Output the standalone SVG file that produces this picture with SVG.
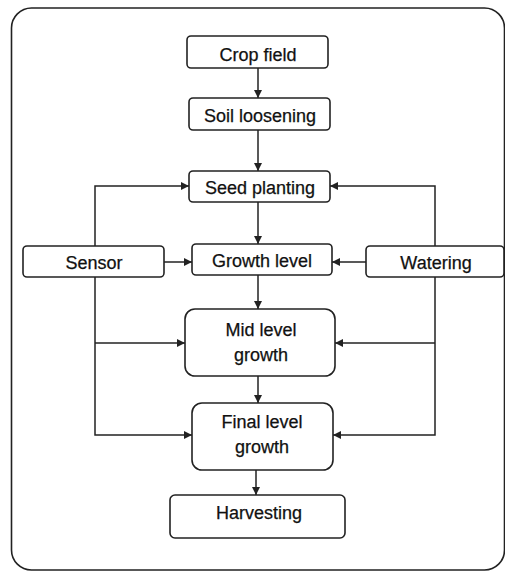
<svg xmlns="http://www.w3.org/2000/svg" width="505" height="572" viewBox="0 0 505 572">
<style>
.box{fill:#fff;stroke:#222;stroke-width:1.6}
.t{font-family:"Liberation Sans",Arial,sans-serif;font-size:18px;fill:#111;stroke:#111;stroke-width:0.25;text-anchor:middle}
.c{fill:none;stroke:#222;stroke-width:1.5}
</style>
<defs>
<marker id="a" viewBox="0 0 10 10" refX="10" refY="5" markerWidth="9" markerHeight="8" markerUnits="userSpaceOnUse" orient="auto">
<path d="M0,0L10,5L0,10z" fill="#222"/>
</marker>
</defs>
<rect x="0" y="0" width="505" height="572" fill="#fff"/>
<rect x="11.5" y="8" width="493" height="562" rx="20" fill="none" stroke="#222" stroke-width="1.6"/>
<g id="connectors">
<line class="c" x1="258" y1="68" x2="258" y2="98" marker-end="url(#a)"/>
<line class="c" x1="258" y1="130" x2="258" y2="171" marker-end="url(#a)"/>
<line class="c" x1="258" y1="202" x2="258" y2="244" marker-end="url(#a)"/>
<line class="c" x1="258" y1="275" x2="258" y2="309" marker-end="url(#a)"/>
<line class="c" x1="258" y1="376" x2="258" y2="403" marker-end="url(#a)"/>
<line class="c" x1="256" y1="470" x2="256" y2="495" marker-end="url(#a)"/>
<line class="c" x1="164" y1="262" x2="192" y2="262" marker-end="url(#a)"/>
<line class="c" x1="366" y1="262" x2="332" y2="262" marker-end="url(#a)"/>
<polyline class="c" points="95,246 95,186 189,186" marker-end="url(#a)"/>
<polyline class="c" points="95,277 95,435 192,435" marker-end="url(#a)"/>
<line class="c" x1="95" y1="343" x2="185" y2="343" marker-end="url(#a)"/>
<polyline class="c" points="435,246 435,186 330,186" marker-end="url(#a)"/>
<polyline class="c" points="435,277 435,435 333,435" marker-end="url(#a)"/>
<line class="c" x1="435" y1="343" x2="335" y2="343" marker-end="url(#a)"/>
</g>
<g id="crop-field"><rect class="box" x="187" y="36" width="141" height="32" rx="4"/><text class="t" x="258" y="61">Crop field</text></g>
<g id="soil-loosening"><rect class="box" x="189" y="98" width="141" height="32" rx="4"/><text class="t" x="260" y="122">Soil loosening</text></g>
<g id="seed-planting"><rect class="box" x="189" y="171" width="141" height="31" rx="4"/><text class="t" x="260" y="194">Seed planting</text></g>
<g id="growth-level"><rect class="box" x="192" y="244" width="140" height="31" rx="4"/><text class="t" x="262" y="267">Growth level</text></g>
<g id="sensor"><rect class="box" x="23" y="246" width="141" height="31" rx="4"/><text class="t" x="94" y="269">Sensor</text></g>
<g id="watering"><rect class="box" x="366" y="246" width="138" height="31" rx="4"/><text class="t" x="436" y="269">Watering</text></g>
<g id="mid-level-growth"><rect class="box" x="185" y="309" width="150" height="67" rx="10"/><text class="t" x="261" y="336">Mid level</text><text class="t" x="261" y="361">growth</text></g>
<g id="final-level-growth"><rect class="box" x="192" y="403" width="141" height="67" rx="10"/><text class="t" x="262" y="428">Final level</text><text class="t" x="262" y="453">growth</text></g>
<g id="harvesting"><rect class="box" x="170" y="495" width="175" height="43" rx="5"/><text class="t" x="259" y="519">Harvesting</text></g>
</svg>
